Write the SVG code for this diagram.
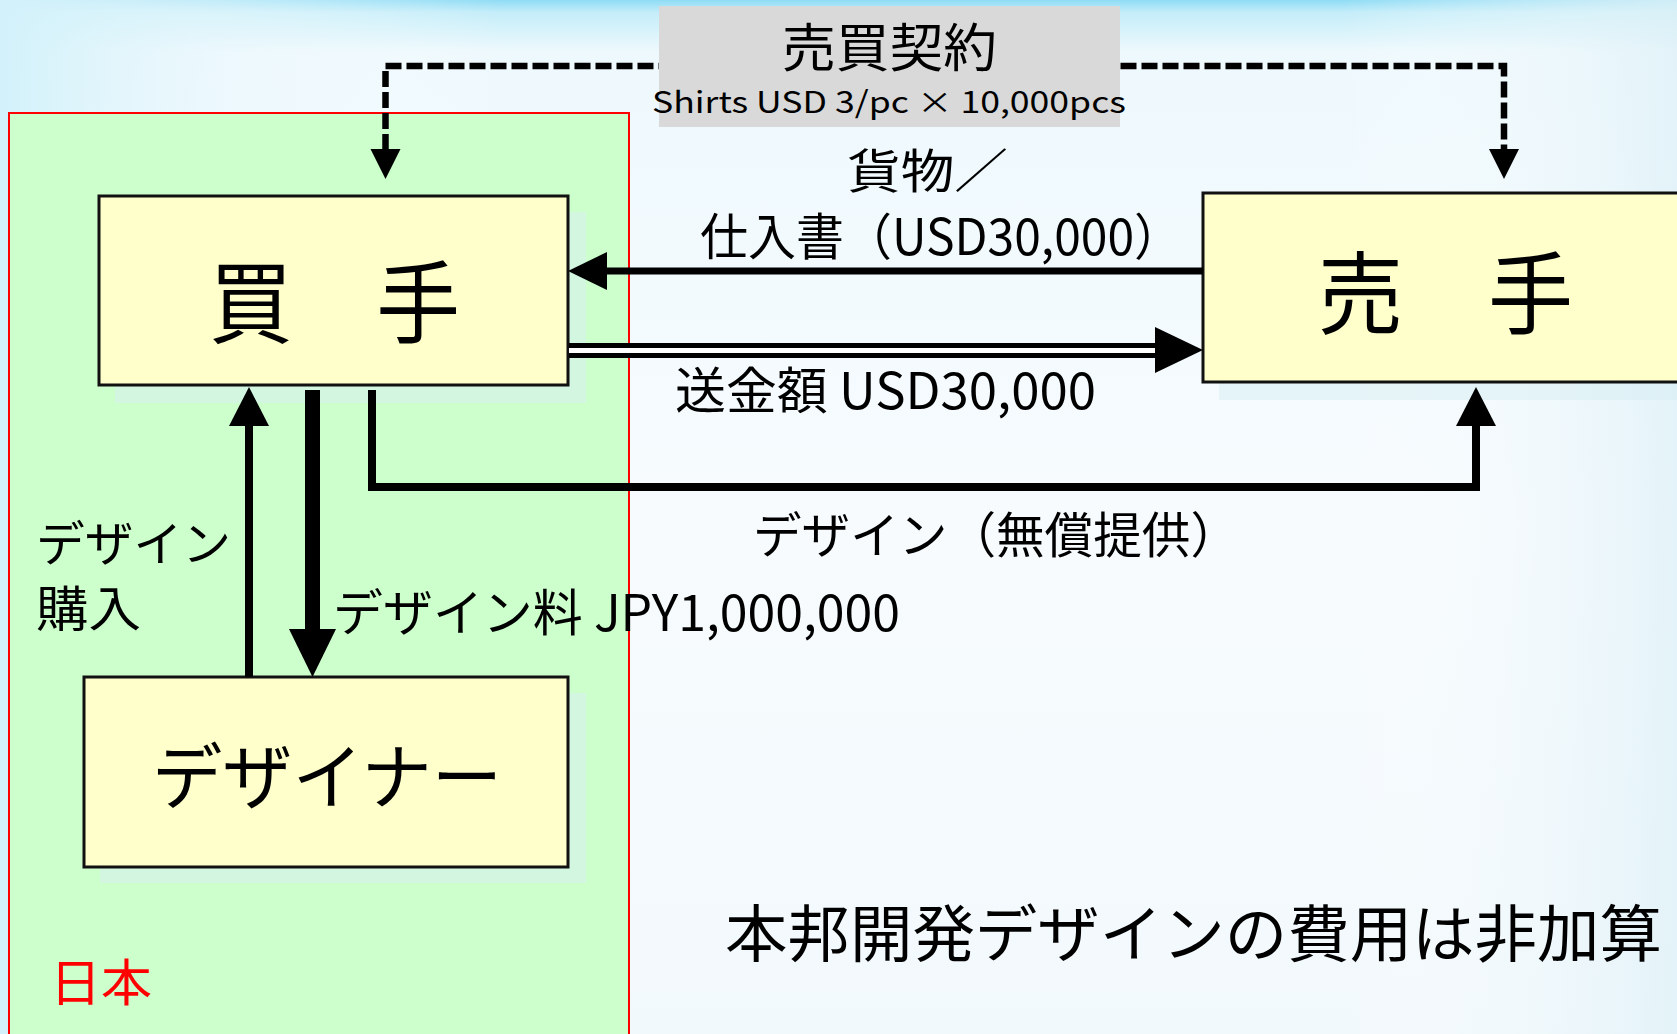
<svg xmlns="http://www.w3.org/2000/svg" width="1677" height="1034" viewBox="0 0 1677 1034">
<defs>
<linearGradient id="bgv" x1="0" y1="0" x2="0" y2="1">
<stop offset="0" stop-color="#8fdcf5"/>
<stop offset="0.012" stop-color="#c4edf9"/>
<stop offset="0.05" stop-color="#eef9fd"/>
<stop offset="0.5" stop-color="#f7fbfe"/>
<stop offset="1" stop-color="#f2f9fc"/>
</linearGradient>
<linearGradient id="bgl" x1="0" y1="0" x2="1" y2="0">
<stop offset="0" stop-color="#d2f1fa" stop-opacity="1"/>
<stop offset="0.12" stop-color="#e8f7fc" stop-opacity="0.6"/>
<stop offset="0.3" stop-color="#ffffff" stop-opacity="0"/>
<stop offset="0.8" stop-color="#ffffff" stop-opacity="0"/>
<stop offset="1" stop-color="#dff1f7" stop-opacity="0.8"/>
</linearGradient>
<style>
.t{font-family:"Noto Sans CJK JP","Noto Sans",sans-serif;fill:#000;}
.box{fill:#ffffcc;stroke:#111;stroke-width:3;}
.shadow{fill:rgb(215,238,242);fill-opacity:0.52;}
.ln{stroke:#000;fill:none;}
</style>
</defs>
<rect x="0" y="0" width="1677" height="1034" fill="url(#bgv)"/>
<rect x="0" y="0" width="1677" height="1034" fill="url(#bgl)"/>

<g id="japan">
<rect x="9" y="113" width="620" height="930" fill="#ccffcc" stroke="#ff0000" stroke-width="2"/>
<text class="t" x="50" y="1001" font-size="50" textLength="102" lengthAdjust="spacingAndGlyphs" style="fill:#ff0000">日本</text>
</g>

<g id="buyer">
<rect class="shadow" x="115" y="212" width="471" height="191"/>
<rect class="box" x="99" y="196" width="469" height="189"/>
<text class="t" x="209" y="336" font-size="90" textLength="251" lengthAdjust="spacingAndGlyphs">買　手</text>
</g>

<g id="seller">
<rect class="shadow" x="1219" y="211" width="470" height="189"/>
<rect class="box" x="1203" y="193" width="490" height="189"/>
<text class="t" x="1318" y="327" font-size="90" textLength="255" lengthAdjust="spacingAndGlyphs">売　手</text>
</g>

<g id="designer">
<rect class="shadow" x="100" y="693" width="486" height="190"/>
<rect class="box" x="84" y="677" width="484" height="190"/>
<text class="t" x="152" y="803" font-size="72" textLength="350" lengthAdjust="spacingAndGlyphs">デザイナー</text>
</g>

<g id="connectors">
<path class="ln" d="M385.5,150 V66 H1504 V150" stroke-width="6.5" stroke-dasharray="16 5"/>
<polygon points="370.5,149 400.5,149 385.5,179"/>
<polygon points="1489,149 1519,149 1504,179"/>
<line class="ln" x1="1203" y1="271" x2="605" y2="271" stroke-width="7"/>
<polygon points="568,271 607,252 607,290"/>
<line class="ln" x1="569" y1="350.5" x2="1162" y2="350.5" stroke-width="15"/>
<line x1="569" y1="350.5" x2="1162" y2="350.5" stroke="#ffffff" stroke-width="5"/>
<polygon points="1203,350 1155,327 1155,373"/>
<path class="ln" d="M372,390 V487 H1476 V424" stroke-width="8"/>
<polygon points="1476,387 1456,426 1496,426"/>
<line class="ln" x1="249" y1="677" x2="249" y2="424" stroke-width="8"/>
<polygon points="249,387 229,426 269,426"/>
<line class="ln" x1="312.5" y1="390" x2="312.5" y2="631" stroke-width="15"/>
<polygon points="312.5,677 289,629 336,629"/>
</g>

<g id="contract">
<rect x="659" y="6" width="461" height="121" fill="#d9d9d9"/>
<text class="t" x="782" y="67" font-size="52" textLength="215" lengthAdjust="spacingAndGlyphs">売買契約</text>
<text class="t" x="652" y="113" font-size="30" textLength="474" lengthAdjust="spacingAndGlyphs">Shirts USD 3/pc × 10,000pcs</text>
</g>

<g id="labels">
<text class="t" x="847" y="188" font-size="47" textLength="161" lengthAdjust="spacingAndGlyphs">貨物／</text>
<text class="t" x="700" y="255" font-size="50" textLength="482" lengthAdjust="spacingAndGlyphs">仕入書（USD30,000）</text>
<text class="t" x="675" y="409" font-size="50" textLength="421" lengthAdjust="spacingAndGlyphs">送金額 USD30,000</text>
<text class="t" x="753" y="553" font-size="49" textLength="486" lengthAdjust="spacingAndGlyphs">デザイン（無償提供）</text>
<text class="t" x="36" y="561" font-size="48" textLength="195" lengthAdjust="spacingAndGlyphs">デザイン</text>
<text class="t" x="36" y="626" font-size="48" textLength="105" lengthAdjust="spacingAndGlyphs">購入</text>
<text class="t" x="333" y="631" font-size="50" textLength="567" lengthAdjust="spacingAndGlyphs">デザイン料 JPY1,000,000</text>
<text class="t" x="725" y="957" font-size="62" textLength="937" lengthAdjust="spacingAndGlyphs">本邦開発デザインの費用は非加算</text>
</g>
</svg>
